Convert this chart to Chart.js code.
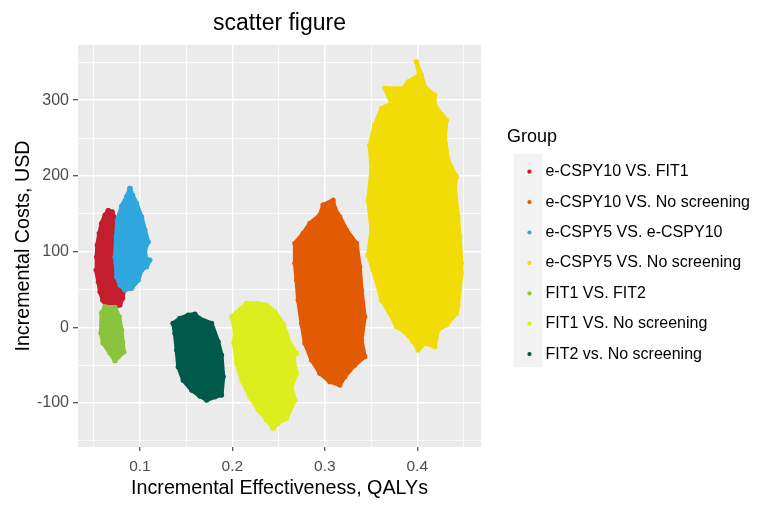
<!DOCTYPE html>
<html lang="en">
<head>
<meta charset="UTF-8">
<title>scatter figure</title>
<style>
    html, body {
        margin: 0;
        padding: 0;
        background-color: #FFFFFF;
    }
    #wrap {
        width: 765px;
        height: 510px;
    }
</style>
</head>
<body>
<div id="wrap"><canvas id="scatterChart" width="765" height="510"></canvas></div>

<script src="https://cdn.jsdelivr.net/npm/chart.js"></script>
<script>
    // Groups, in legend order
    const groups = [
        'e-CSPY10 VS. FIT1',
        'e-CSPY10 VS. No screening',
        'e-CSPY5 VS. e-CSPY10',
        'e-CSPY5 VS. No screening',
        'FIT1 VS. FIT2',
        'FIT1 VS. No screening',
        'FIT2 vs. No screening'
    ];
    const groupColors = ['#C41E2E', '#E35A05', '#2FA7DE', '#F1DC08', '#8BC33E', '#DCEF1E', '#005A4A'];

    // Outline of each simulation cloud: [QALYs, USD]
    const cspy10VsFit1 = [[0.0657,154],[0.0701,152.6],[0.0719,146],[0.0741,128.5],[0.0748,102],[0.0741,75.7],[0.0766,60.2],[0.0813,55.9],[0.0827,49.3],[0.0813,38.3],[0.0784,29.4],[0.0711,26.4],[0.0640,28.1],[0.0597,36],[0.0568,47],[0.0550,60.2],[0.0525,75.7],[0.0532,93.2],[0.0538,108.7],[0.0560,124.1],[0.0585,137.3],[0.0622,148.3]];
    const cspy10VsNo = [[0.2982,161.5],[0.3090,168.1],[0.3108,157.1],[0.3162,146],[0.3235,128.5],[0.3343,110.9],[0.3378,80],[0.3397,49.3],[0.3432,14],[0.3397,-16.8],[0.3432,-38.8],[0.3324,-49.8],[0.3216,-65.2],[0.3162,-76.2],[0.3054,-71.8],[0.2946,-60.7],[0.2856,-43.2],[0.2784,-21.1],[0.2748,5.3],[0.2711,36],[0.2694,62.5],[0.2676,84.5],[0.2676,110.9],[0.2765,124.1],[0.2838,137.3],[0.2946,148.3]];
    const cspy5VsCspy10 = [[0.0892,183.5],[0.0921,174.7],[0.0964,163.7],[0.1018,146],[0.1054,128.5],[0.1090,113],[0.1054,102],[0.1065,91.1],[0.1108,88.9],[0.1072,80],[0.1018,75.7],[0.0982,62.5],[0.0910,51.5],[0.0838,49.3],[0.0784,55.9],[0.0748,66.8],[0.0730,93.2],[0.0741,119.6],[0.0755,141.7],[0.0802,160.2],[0.0856,172.5]];
    const cspy5VsNo = [[0.3991,350.7],[0.4045,333.2],[0.4081,317.7],[0.4189,306.8],[0.4189,293.6],[0.4316,273.7],[0.4297,251.7],[0.4333,220.9],[0.4424,198.9],[0.4405,185.7],[0.4441,146],[0.4459,119.6],[0.4478,84.5],[0.4478,71.3],[0.4441,29.4],[0.4424,18.5],[0.4316,3],[0.4225,-3.6],[0.4189,-25.6],[0.4081,-21.1],[0.4009,-30],[0.3955,-19],[0.3865,-5.8],[0.3775,0.8],[0.3703,18.5],[0.3613,36],[0.3522,75.7],[0.3468,95.5],[0.3505,128.5],[0.3468,168.1],[0.3505,207.7],[0.3486,240.7],[0.3541,267.2],[0.3613,289.2],[0.3721,295.8],[0.3649,315.6],[0.3847,315.6],[0.3901,324.3],[0.4020,333.2]];
    const fit1VsFit2 = [[0.0622,27.2],[0.0730,26.4],[0.0776,14],[0.0802,-3.6],[0.0813,-19.4],[0.0827,-32.2],[0.0730,-44.1],[0.0676,-33.9],[0.0600,-20.7],[0.0578,-7.5],[0.0585,18.9]];
    const fit1VsNo = [[0.2153,31.7],[0.2262,31.7],[0.2370,29.4],[0.2459,20.6],[0.2549,5.3],[0.2622,-21.1],[0.2694,-34.3],[0.2658,-38.8],[0.2694,-60.7],[0.2640,-78.4],[0.2676,-96],[0.2586,-120.2],[0.2495,-126.8],[0.2441,-133.4],[0.2370,-122.4],[0.2279,-109.2],[0.2189,-91.6],[0.2099,-69.6],[0.2045,-47.5],[0.2016,-21.1],[0.2027,-3.6],[0.1991,14]];
    const fit2VsNo = [[0.1360,5.3],[0.1432,11.9],[0.1522,16.2],[0.1595,17.5],[0.1641,11.9],[0.1775,5.3],[0.1846,-19],[0.1883,-36.6],[0.1901,-65.2],[0.1883,-89.4],[0.1811,-91.7],[0.1721,-96],[0.1649,-90.8],[0.1559,-82.9],[0.1468,-69.7],[0.1414,-52.1],[0.1397,-29.9],[0.1378,-7.9]];

    const outlines = [cspy10VsFit1, cspy10VsNo, cspy5VsCspy10, cspy5VsNo, fit1VsFit2, fit1VsNo, fit2VsNo];

    // Axes: grid every half step, labels on the whole steps
    const xGrid = [0.05, 0.1, 0.15, 0.2, 0.25, 0.3, 0.35, 0.4, 0.45];
    const xLabelTicks = [0.1, 0.2, 0.3, 0.4];
    const yGrid = [-150, -100, -50, 0, 50, 100, 150, 200, 250, 300, 350];
    const yLabelTicks = [-100, 0, 100, 200, 300];

    const isIn = (list, v) => list.some(m => Math.abs(m - v) < 1e-9);

    Chart.defaults.font.family = '"Liberation Sans", Arial, sans-serif';

    // grey panel + grey legend key column, like ggplot
    const panelBackground = {
        id: 'panelBackground',
        beforeDraw(chart) {
            const {ctx, chartArea: a} = chart;
            ctx.save();
            ctx.fillStyle = '#EBEBEB';
            ctx.fillRect(a.left, a.top, a.right - a.left, a.bottom - a.top);
            const boxes = chart.legend && chart.legend.legendHitBoxes;
            if (boxes && boxes.length) {
                const first = boxes[0];
                const last = boxes[boxes.length - 1];
                ctx.fillStyle = '#F2F2F2';
                ctx.fillRect(first.left - 8, first.top - 10, 29, last.top + last.height + 5 - (first.top - 10));
            }
            ctx.restore();
        }
    };

    const datasets = groups.map((g, i) => {
        const pts = outlines[i].map(p => ({x: p[0], y: p[1]}));
        pts.push({x: outlines[i][0][0], y: outlines[i][0][1]});
        const c = groupColors[i];
        return {
            label: g,
            data: pts,
            showLine: true,
            fill: 'shape',
            borderColor: c,
            backgroundColor: c,
            borderWidth: 4,
            borderJoinStyle: 'round',
            pointBackgroundColor: c,
            pointBorderColor: c,
            pointBorderWidth: 0,
            pointRadius: 2.6,
            pointHoverRadius: 2.6,
            order: groups.length - i
        };
    });

    new Chart(document.getElementById('scatterChart'), {
        type: 'scatter',
        data: {datasets},
        options: {
            responsive: false,
            animation: false,
            events: [],
            layout: {padding: {right: 5}},
            scales: {
                x: {
                    type: 'linear',
                    min: 0.033,
                    max: 0.469,
                    afterBuildTicks: s => { s.ticks = xGrid.map(v => ({value: v})); },
                    afterFit: s => { s.height = 63; },
                    border: {display: false},
                    grid: {
                        color: '#FFFFFF',
                        lineWidth: c => (c.tick && isIn(xLabelTicks, c.tick.value)) ? 1.5 : 0.75,
                        tickColor: c => (c.tick && isIn(xLabelTicks, c.tick.value)) ? '#333333' : 'rgba(0,0,0,0)',
                        tickLength: 4,
                        tickWidth: 1.1
                    },
                    ticks: {
                        autoSkip: false,
                        maxRotation: 0,
                        padding: 6,
                        color: '#4D4D4D',
                        font: {size: 15.5},
                        callback: v => isIn(xLabelTicks, v) ? v.toFixed(1) : ''
                    },
                    title: {
                        display: true,
                        text: 'Incremental Effectiveness, QALYs',
                        color: '#000000',
                        font: {size: 19.7},
                        padding: {top: 0, bottom: 10}
                    }
                },
                y: {
                    type: 'linear',
                    min: -158,
                    max: 372.8,
                    afterBuildTicks: s => { s.ticks = yGrid.map(v => ({value: v})); },
                    afterFit: s => { s.width = 78; },
                    border: {display: false},
                    grid: {
                        color: '#FFFFFF',
                        lineWidth: c => (c.tick && isIn(yLabelTicks, c.tick.value)) ? 1.5 : 0.75,
                        tickColor: c => (c.tick && isIn(yLabelTicks, c.tick.value)) ? '#333333' : 'rgba(0,0,0,0)',
                        tickLength: 5,
                        tickWidth: 1.1
                    },
                    ticks: {
                        autoSkip: false,
                        padding: 4,
                        color: '#4D4D4D',
                        font: {size: 16},
                        callback: v => isIn(yLabelTicks, v) ? String(v) : ''
                    },
                    title: {
                        display: true,
                        text: 'Incremental Costs, USD',
                        color: '#000000',
                        font: {size: 19.7},
                        padding: {top: 12, bottom: 0}
                    }
                },
                // empty axis, only keeps the gap between panel and legend
                gap: {
                    type: 'linear',
                    position: 'right',
                    display: true,
                    grid: {display: false, drawTicks: false},
                    border: {display: false},
                    ticks: {display: false},
                    afterFit: s => { s.width = 26; }
                }
            },
            plugins: {
                title: {
                    display: true,
                    text: 'scatter figure',
                    fullSize: false,
                    color: '#000000',
                    font: {size: 23, weight: 'normal'},
                    padding: {top: 10.2, bottom: 7.2}
                },
                legend: {
                    position: 'right',
                    align: 'start',
                    maxWidth: 253,
                    title: {
                        display: true,
                        text: 'Group',
                        position: 'start',
                        color: '#000000',
                        font: {size: 18},
                        padding: {top: 127.7, bottom: 0}
                    },
                    labels: {
                        usePointStyle: true,
                        pointStyle: 'circle',
                        boxWidth: 16,
                        boxHeight: 3,
                        padding: 14.4,
                        color: '#000000',
                        font: {size: 16},
                        sort: (a, b) => a.datasetIndex - b.datasetIndex
                    }
                },
                tooltip: {enabled: false}
            }
        },
        plugins: [panelBackground]
    });
</script>
</body>
</html>
